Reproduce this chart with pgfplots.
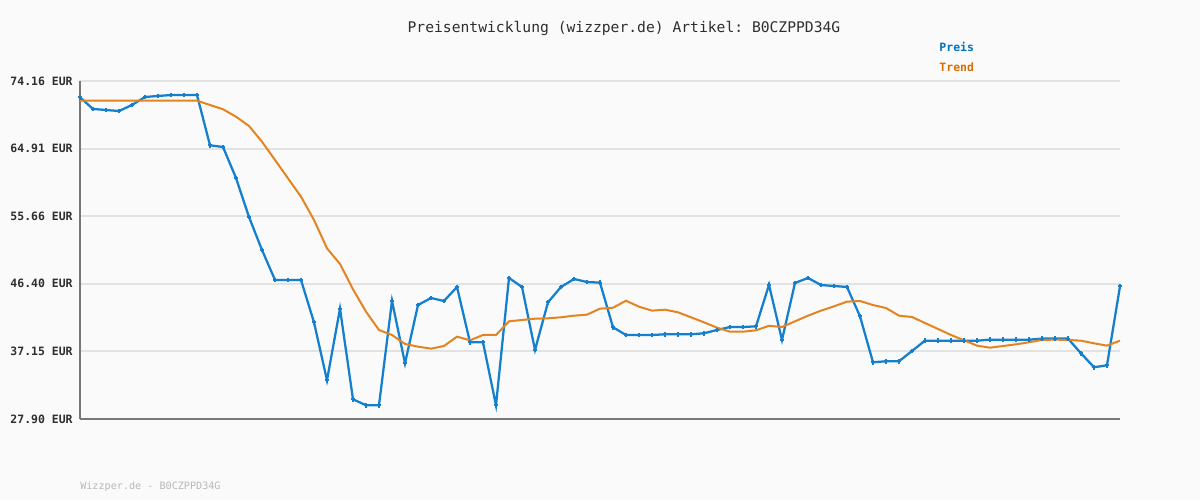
\documentclass[border=0pt]{standalone}
\usepackage{pgfplots}
\pgfplotsset{compat=1.18}
\usepackage{fontspec}
\setmainfont{DejaVu Sans Mono}
\setmonofont{DejaVu Sans Mono}
\frenchspacing
\definecolor{bgc}{HTML}{FAFAFA}
\definecolor{preis}{RGB}{20,128,205}
\definecolor{trend}{RGB}{228,132,32}
\definecolor{preistxt}{RGB}{0,114,192}
\definecolor{trendtxt}{RGB}{214,112,0}
\definecolor{gridc}{HTML}{E2E2E2}
\definecolor{axc}{HTML}{777777}
\definecolor{labc}{HTML}{2E2E2E}

\pgfplotstableread{
x y
0 71.93
1 70.33
2 70.19
3 70.05
4 70.88
5 71.97
6 72.11
7 72.24
8 72.24
9 72.24
10 65.36
11 65.13
12 60.89
13 55.55
14 51.03
15 46.93
16 46.93
17 46.93
18 41.13
19 33.20
20 43.00
21 30.60
22 29.78
23 29.78
24 44.07
25 35.52
26 43.50
27 44.46
28 44.05
29 45.97
30 38.40
31 38.40
32 29.78
33 47.20
34 45.97
35 37.35
36 43.87
37 45.97
38 47.06
39 46.65
40 46.56
41 40.45
42 39.40
43 39.40
44 39.40
45 39.49
46 39.49
47 39.49
48 39.63
49 40.08
50 40.49
51 40.49
52 40.58
53 46.26
54 38.71
55 46.52
56 47.20
57 46.24
58 46.10
59 45.97
60 41.96
61 35.66
62 35.80
63 35.80
64 37.21
65 38.62
66 38.62
67 38.62
68 38.62
69 38.62
70 38.76
71 38.76
72 38.76
73 38.76
74 38.90
75 38.90
76 38.90
77 36.89
78 34.98
79 35.25
80 46.06
}\preistable

\pgfplotstableread{
x y
0 71.46
1 71.46
2 71.46
3 71.46
4 71.46
5 71.46
6 71.46
7 71.46
8 71.46
9 71.46
10 70.88
11 70.29
12 69.28
13 68.00
14 65.85
15 63.35
16 60.84
17 58.33
18 55.14
19 51.26
20 49.12
21 45.65
22 42.59
23 40.08
24 39.40
25 38.17
26 37.80
27 37.53
28 37.89
29 39.17
30 38.67
31 39.40
32 39.40
33 41.27
34 41.45
35 41.63
36 41.68
37 41.82
38 42.04
39 42.18
40 43.00
41 43.13
42 44.09
43 43.27
44 42.73
45 42.86
46 42.50
47 41.82
48 41.13
49 40.40
50 39.85
51 39.85
52 40.04
53 40.65
54 40.49
55 41.27
56 42.04
57 42.73
58 43.32
59 43.96
60 44.05
61 43.50
62 43.09
63 42.04
64 41.86
65 41.04
66 40.22
67 39.40
68 38.67
69 37.94
70 37.66
71 37.89
72 38.12
73 38.40
74 38.72
75 38.76
76 38.72
77 38.62
78 38.26
79 37.94
80 38.62
}\trendtable

\begin{document}
\begin{tikzpicture}
% page: 1200x500 px at 0.75pt per px
\fill[bgc] (0,0) rectangle (900pt,375pt);
\node[font=\fontsize{11}{13}\selectfont, text=labc] at (468pt,354pt) {Preisentwicklung (wizzper.de) Artikel: B0CZPPD34G};
\node[font=\fontsize{7.6}{9}\selectfont, text=black!28, anchor=west, inner sep=0pt] at (60pt,9.75pt) {Wizzper.de - B0CZPPD34G};
\begin{axis}[
  at={(60pt,60.75pt)}, anchor=south west,
  scale only axis,
  width=780pt, height=253.5pt,
  xmin=0, xmax=80,
  ymin=27.90, ymax=74.16,
  axis lines*=left,
  axis line style={axc, line width=1.6pt, -},
  xtick=\empty,
  ytick={27.90,37.15,46.40,55.66,64.91,74.16},
  yticklabels={27.90 EUR,37.15 EUR,46.40 EUR,55.66 EUR,64.91 EUR,74.16 EUR},
  yticklabel style={font=\fontsize{8.6}{10}\selectfont\bfseries, text=labc, xshift=-2pt},
  major tick length=0pt,
  ymajorgrids=true,
  grid style={gridc, line width=1.5pt},
  clip=false,
]
\addplot[preis, line width=1.7pt, mark=+, mark size=1.8pt, mark options={line width=1.4pt}] table[x=x,y=y]{\preistable};
\addplot[trend, line width=1.5pt, no marks] table[x=x,y=y]{\trendtable};
\node[font=\fontsize{8.6}{10}\selectfont\bfseries, text=preistxt] at (rel axis cs:0.843,1.1006) {Preis};
\node[font=\fontsize{8.6}{10}\selectfont\bfseries, text=trendtxt] at (rel axis cs:0.843,1.0414) {Trend};
\end{axis}
\end{tikzpicture}
\end{document}
